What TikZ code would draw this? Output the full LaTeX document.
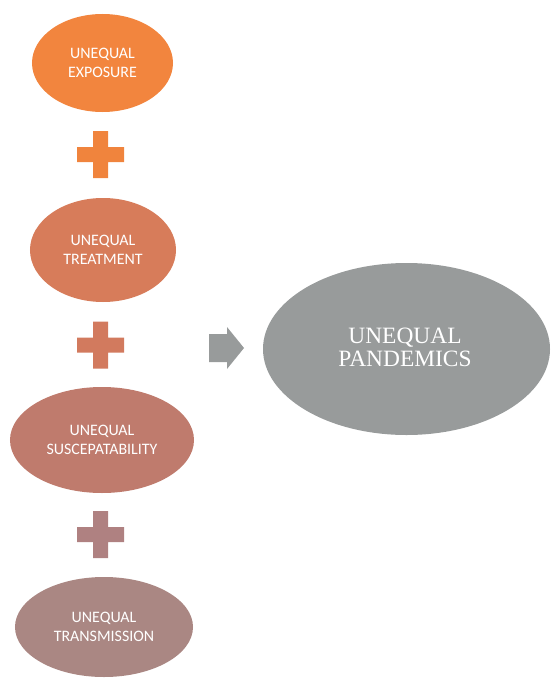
\documentclass[tikz,border=0pt]{standalone}
\usepackage{fontspec}
\setmainfont{Carlito}
\newfontfamily\serifface{Liberation Serif}
\usetikzlibrary{shapes.geometric,calc}
\definecolor{cA}{HTML}{F2853E}
\definecolor{cB}{HTML}{D77C5A}
\definecolor{cC}{HTML}{BF7B6D}
\definecolor{cD}{HTML}{AA8783}
\definecolor{pA}{HTML}{F0843D}
\definecolor{pB}{HTML}{D27A5E}
\definecolor{pC}{HTML}{AF8181}
\definecolor{gr}{HTML}{989B9B}
\tikzset{
  oval/.style={ellipse, inner sep=0pt, text=white, align=center,
    font=\fontsize{16}{19}\selectfont},
  bigoval/.style={ellipse, inner sep=0pt, fill=gr, text=white, align=center,
    font=\serifface\fontsize{23.5}{23}\selectfont},
}
\newcommand{\plussign}[3]{%
  \fill[#3] ($(#1,#2)+(-23.5,-7.5)$) -- ++(16,0) -- ++(0,-16) -- ++(15,0) -- ++(0,16)
    -- ++(16,0) -- ++(0,15) -- ++(-16,0) -- ++(0,16) -- ++(-15,0) -- ++(0,-16) -- ++(-16,0) -- cycle;}
\begin{document}
\begin{tikzpicture}[x=1bp,y=-1bp]
\useasboundingbox (0,0) rectangle (551,678);
\node[oval, fill=cA, minimum width=141bp, minimum height=98bp] (e1) at (102.5,63) {UNEQUAL\\EXPOSURE};
\node[oval, fill=cB, minimum width=146bp, minimum height=104bp] (e2) at (103,250) {UNEQUAL\\TREATMENT};
\node[oval, fill=cC, minimum width=184bp, minimum height=106bp] (e3) at (102,440) {UNEQUAL\\SUSCEPATABILITY};
\node[oval, fill=cD, minimum width=178bp, minimum height=100bp] (e4) at (104,627) {UNEQUAL\\TRANSMISSION};
\node[bigoval, minimum width=287bp, minimum height=172bp] (big) at (406.5,349) {};
\node[font=\serifface\fontsize{23.5}{23}\selectfont, text=white, align=center, inner sep=0pt] (bigtxt) at (405,347.5) {UNEQUAL\\PANDEMICS};
\plussign{100.5}{154.5}{pA}
\plussign{100.5}{345}{pB}
\plussign{100.5}{534.5}{pC}
\fill[gr] (209,334) -- (227,334) -- (227,327) -- (244,348) -- (227,369) -- (227,362) -- (209,362) -- cycle;
\end{tikzpicture}
\end{document}
